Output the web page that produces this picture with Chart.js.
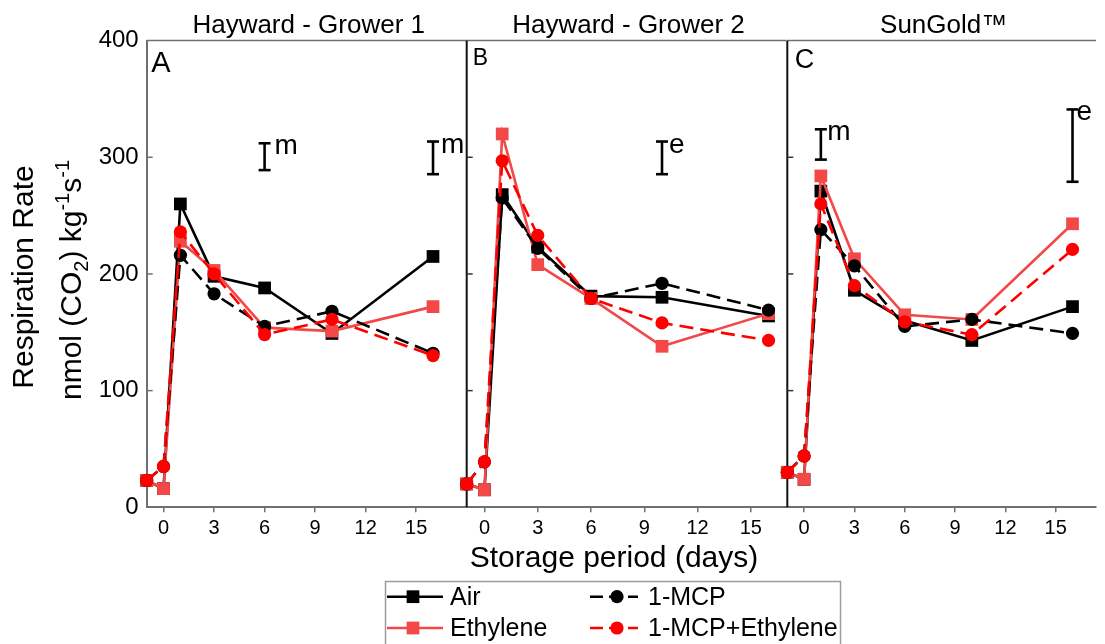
<!DOCTYPE html>
<html>
<head>
<meta charset="utf-8">
<script src="https://cdn.jsdelivr.net/npm/chart.js@4.4.0/dist/chart.umd.min.js"></script>
<style>
  html, body { margin: 0; padding: 0; background: #ffffff; }
  #wrap { position: relative; width: 1105px; height: 644px; overflow: hidden; background: #ffffff; }
  #wrap canvas { position: absolute; left: 0; top: 0; }
</style>
</head>
<body>
<div id="wrap">
  <canvas id="panelA" width="1105" height="644"></canvas>
  <canvas id="panelB" width="1105" height="644"></canvas>
  <canvas id="panelC" width="1105" height="644"></canvas>
</div>
<script>
// ---- data -----------------------------------------------------------------
const days = [-1, 0, 1, 3, 6, 10, 16];
const xTickValues = [0, 3, 6, 9, 12, 15];
const yTickValues = [0, 100, 200, 300, 400];
const seriesNames = ['Air', 'Ethylene', '1-MCP', '1-MCP+Ethylene'];
const panelTitles = ['Hayward - Grower 1', 'Hayward - Grower 2', 'SunGold\u2122'];
const panelLetters = ['A', 'B', 'C'];

// Hayward - Grower 1
const airA    = [23, 16, 260, 198, 188, 149, 215];
const ethA    = [23, 16, 228, 203, 154, 151, 172];
const mcpA    = [23, 35, 216, 183, 155, 168, 132];
const mcpEthA = [23, 35, 236, 200, 148, 161, 130];

// Hayward - Grower 2
const airB    = [20, 15, 268, 223, 181, 180, 164];
const ethB    = [20, 15, 320, 208, 179, 138, 166];
const mcpB    = [20, 39, 265, 222, 179, 192, 169];
const mcpEthB = [20, 39, 297, 233, 179, 158, 143];

// SunGold
const airC    = [30, 24, 271, 186, 160, 143, 172];
const ethC    = [30, 24, 284, 213, 165, 161, 243];
const mcpC    = [30, 44, 238, 207, 155, 161, 149];
const mcpEthC = [30, 44, 260, 190, 159, 148, 221];

// LSD bars: day, centre, half range, letter
const barDayA = [6, 16];   const barMidA = [300.5, 299.5]; const barHalfA = [11.5, 14];   const barTagA = ['m', 'm'];
const barDayB = [10];      const barMidB = [299.5];        const barHalfB = [14];         const barTagB = ['e'];
const barDayC = [1, 16];   const barMidC = [311];          const barHalfC = [13];         const barTagC = ['m', 'e'];
const barMidC2 = [310];    const barHalfC2 = [31];

// ---- styling -------------------------------------------------------------
const FONT = '"Liberation Sans", Arial, Helvetica, sans-serif';
const W = 1105, H = 644;
const PLOT_TOP = 40.6, PLOT_BOTTOM = 507.3;
const AXIS_GREY = '#6f6f6f';

const styles = {
  'Air':            { color: '#000000', point: 'rect',   radius: 9,   dash: [] },
  'Ethylene':       { color: '#f24848', point: 'rect',   radius: 9,   dash: [] },
  '1-MCP':          { color: '#000000', point: 'circle', radius: 6.6, dash: [14, 7] },
  '1-MCP+Ethylene': { color: '#ff0000', point: 'circle', radius: 6.6, dash: [14, 7] }
};
// first entry ends up on top
const drawOrder = ['1-MCP+Ethylene', '1-MCP', 'Ethylene', 'Air'];

function buildDatasets(series) {
  return drawOrder.map(name => {
    const s = styles[name];
    return {
      label: name,
      data: days.map((d, i) => ({ x: d, y: series[name][i] })),
      borderColor: s.color,
      backgroundColor: s.color,
      borderWidth: 2.6,
      borderDash: s.dash,
      pointStyle: s.point,
      pointRadius: s.radius,
      pointHoverRadius: s.radius,
      pointBackgroundColor: s.color,
      pointBorderWidth: 0,
      tension: 0,
      fill: false,
      clip: false
    };
  });
}

function seg(ctx, x1, y1, x2, y2) {
  ctx.beginPath(); ctx.moveTo(x1, y1); ctx.lineTo(x2, y2); ctx.stroke();
}

// rotated axis title with sub/superscripts
function drawYTitle(ctx) {
  ctx.save();
  ctx.fillStyle = '#000';
  ctx.translate(33, 277);
  ctx.rotate(-Math.PI / 2);
  ctx.font = `30px ${FONT}`;
  ctx.textAlign = 'center';
  ctx.textBaseline = 'alphabetic';
  ctx.fillText('Respiration Rate', 0, 0);
  ctx.restore();

  const parts = [['nmol (CO', 0], ['2', 1], [') kg', 0], ['-1', 2], ['s', 0], ['-1', 2]];
  ctx.save();
  ctx.fillStyle = '#000';
  ctx.translate(81, 280);
  ctx.rotate(-Math.PI / 2);
  ctx.textAlign = 'left';
  ctx.textBaseline = 'alphabetic';
  const fontFor = k => k === 0 ? `30px ${FONT}` : `20px ${FONT}`;
  let total = 0;
  parts.forEach(([t, k]) => { ctx.font = fontFor(k); total += ctx.measureText(t).width; });
  let x = -total / 2;
  parts.forEach(([t, k]) => {
    ctx.font = fontFor(k);
    const dy = k === 1 ? 7 : (k === 2 ? -12 : 0);
    ctx.fillText(t, x, dy);
    x += ctx.measureText(t).width;
  });
  ctx.restore();
}

function drawXTitle(ctx) {
  ctx.save();
  ctx.fillStyle = '#000';
  ctx.font = `30px ${FONT}`;
  ctx.textAlign = 'center';
  ctx.textBaseline = 'alphabetic';
  ctx.fillText('Storage period (days)', 614, 566.7);
  ctx.restore();
}

function drawLegend(ctx) {
  ctx.save();
  ctx.strokeStyle = '#9c9c9c';
  ctx.lineWidth = 1.5;
  ctx.strokeRect(385.5, 581.5, 455, 90);
  const items = [
    { name: 'Air',            x0: 387, x1: 443, mx: 413, tx: 450, y: 596.7 },
    { name: 'Ethylene',       x0: 387, x1: 443, mx: 413, tx: 450, y: 628 },
    { name: '1-MCP',          x0: 590, x1: 638, mx: 617, tx: 648, y: 596.7 },
    { name: '1-MCP+Ethylene', x0: 590, x1: 638, mx: 617, tx: 648, y: 628 }
  ];
  items.forEach(it => {
    const s = styles[it.name];
    ctx.strokeStyle = s.color;
    ctx.fillStyle = s.color;
    ctx.lineWidth = 2.6;
    ctx.setLineDash(s.dash.length ? [13, 6] : []);
    seg(ctx, it.x0, it.y, it.x1, it.y);
    ctx.setLineDash([]);
    if (s.point === 'rect') {
      const h = s.radius * Math.SQRT1_2;
      ctx.fillRect(it.mx - h, it.y - h, 2 * h, 2 * h);
    } else {
      ctx.beginPath(); ctx.arc(it.mx, it.y, s.radius, 0, Math.PI * 2); ctx.fill();
    }
    ctx.fillStyle = '#000';
    ctx.font = `25px ${FONT}`;
    ctx.textAlign = 'left';
    ctx.textBaseline = 'middle';
    ctx.fillText(it.name, it.tx, it.y + 1);
  });
  ctx.restore();
}

// frame, inner ticks, panel headings and LSD bars
const panelDecor = {
  id: 'panelDecor',
  beforeDatasetsDraw(chart, args, opts) {
    const { ctx, chartArea: a, scales: { y } } = chart;
    ctx.save();
    ctx.strokeStyle = AXIS_GREY;
    ctx.lineWidth = 1.5;
    seg(ctx, a.left, a.top, a.right, a.top);
    if (opts.separator) {
      ctx.strokeStyle = '#111';
      ctx.lineWidth = 2;
      seg(ctx, a.left, a.top, a.left, a.bottom);
    }
    ctx.strokeStyle = opts.separator ? '#333' : AXIS_GREY;
    ctx.lineWidth = 1.5;
    yTickValues.forEach(v => {
      if (v === 0 || v === 400) return;
      const py = y.getPixelForValue(v);
      seg(ctx, a.left, py, a.left + 6, py);
    });
    ctx.restore();
  },
  afterDraw(chart, args, opts) {
    const { ctx, chartArea: a, scales: { x, y } } = chart;
    ctx.save();
    ctx.fillStyle = '#000';
    ctx.textBaseline = 'alphabetic';
    // heading above the panel
    ctx.font = `26px ${FONT}`;
    ctx.textAlign = 'center';
    ctx.fillText(opts.title, (a.left + a.right) / 2 + 2, 33.3);
    // panel letter
    ctx.font = `${opts.letterSize}px ${FONT}`;
    ctx.textAlign = 'left';
    ctx.fillText(opts.letter, a.left + opts.letterDx, opts.letterY);
    // LSD bars
    ctx.strokeStyle = '#000';
    ctx.lineWidth = 2.6;
    opts.bars.forEach(b => {
      const px = x.getPixelForValue(b.day);
      const top = y.getPixelForValue(b.mid + b.half);
      const bot = y.getPixelForValue(b.mid - b.half);
      seg(ctx, px, top, px, bot);
      seg(ctx, px - 6, top, px + 6, top);
      seg(ctx, px - 6, bot, px + 6, bot);
      ctx.font = `28px ${FONT}`;
      ctx.textAlign = 'left';
      ctx.fillText(b.tag, px + b.dx, top + 11);
    });
    ctx.restore();
    if (opts.extra) opts.extra(ctx);
  }
};

function bars(dayArr, midArr, halfArr, tagArr, dxArr) {
  return dayArr.map((d, i) => ({ day: d, mid: midArr[i], half: halfArr[i], tag: tagArr[i], dx: dxArr[i] }));
}

function makePanel(id, p) {
  const yW = p.showY ? 100 : 0;
  const xH = 40;
  return new Chart(document.getElementById(id), {
    type: 'line',
    data: { datasets: buildDatasets(p.series) },
    options: {
      responsive: false,
      animation: false,
      devicePixelRatio: 1,
      events: [],
      layout: { padding: { left: p.left - yW, right: W - p.right, top: PLOT_TOP, bottom: H - PLOT_BOTTOM - xH } },
      plugins: {
        legend: { display: false },
        tooltip: { enabled: false },
        title: { display: false },
        panelDecor: {
          title: p.title, letter: p.letter, letterSize: p.letterSize, letterDx: p.letterDx, letterY: p.letterY,
          separator: !p.showY, bars: p.bars, extra: p.extra
        }
      },
      scales: {
        x: {
          type: 'linear', min: -1, max: p.xMax,
          afterBuildTicks: ax => { ax.ticks = xTickValues.map(v => ({ value: v })); },
          afterFit: ax => { ax.height = xH; },
          ticks: { font: { family: FONT, size: 20 }, color: '#000', padding: 4, maxRotation: 0 },
          grid: { display: true, drawOnChartArea: false, drawTicks: true, tickLength: 5, color: AXIS_GREY, lineWidth: 1.5 },
          border: { display: true, color: AXIS_GREY, width: 2 }
        },
        y: {
          type: 'linear', min: 0, max: 400, display: p.showY,
          afterBuildTicks: ax => { ax.ticks = yTickValues.map(v => ({ value: v })); },
          afterFit: ax => { ax.width = yW; },
          ticks: { font: { family: FONT, size: 24 }, color: '#000', padding: 8 },
          grid: { display: true, drawOnChartArea: false, drawTicks: false },
          border: { display: true, color: AXIS_GREY, width: 2 }
        }
      }
    },
    plugins: [panelDecor]
  });
}

function seriesOf(a, e, m, me) {
  const o = {};
  [a, e, m, me].forEach((arr, i) => { o[seriesNames[i]] = arr; });
  return o;
}

makePanel('panelA', {
  showY: true, left: 146.7, right: 466.7, xMax: 18,
  series: seriesOf(airA, ethA, mcpA, mcpEthA),
  title: panelTitles[0], letter: panelLetters[0], letterSize: 29, letterDx: 4.5, letterY: 71.7,
  bars: bars(barDayA, barMidA, barHalfA, barTagA, [10, 8]),
  extra: drawYTitle
});

makePanel('panelB', {
  showY: false, left: 466.7, right: 786.3, xMax: 17,
  series: seriesOf(airB, ethB, mcpB, mcpEthB),
  title: panelTitles[1], letter: panelLetters[1], letterSize: 23, letterDx: 6, letterY: 65,
  bars: bars(barDayB, barMidB, barHalfB, barTagB, [7]),
  extra: drawXTitle
});

makePanel('panelC', {
  showY: false, left: 787.3, right: 1105, xMax: 17.4,
  series: seriesOf(airC, ethC, mcpC, mcpEthC),
  title: panelTitles[2], letter: panelLetters[2], letterSize: 27, letterDx: 7.5, letterY: 68,
  bars: bars(barDayC, [barMidC[0], barMidC2[0]], [barHalfC[0], barHalfC2[0]], barTagC, [6.5, 4]),
  extra: drawLegend
});
</script>
</body>
</html>
